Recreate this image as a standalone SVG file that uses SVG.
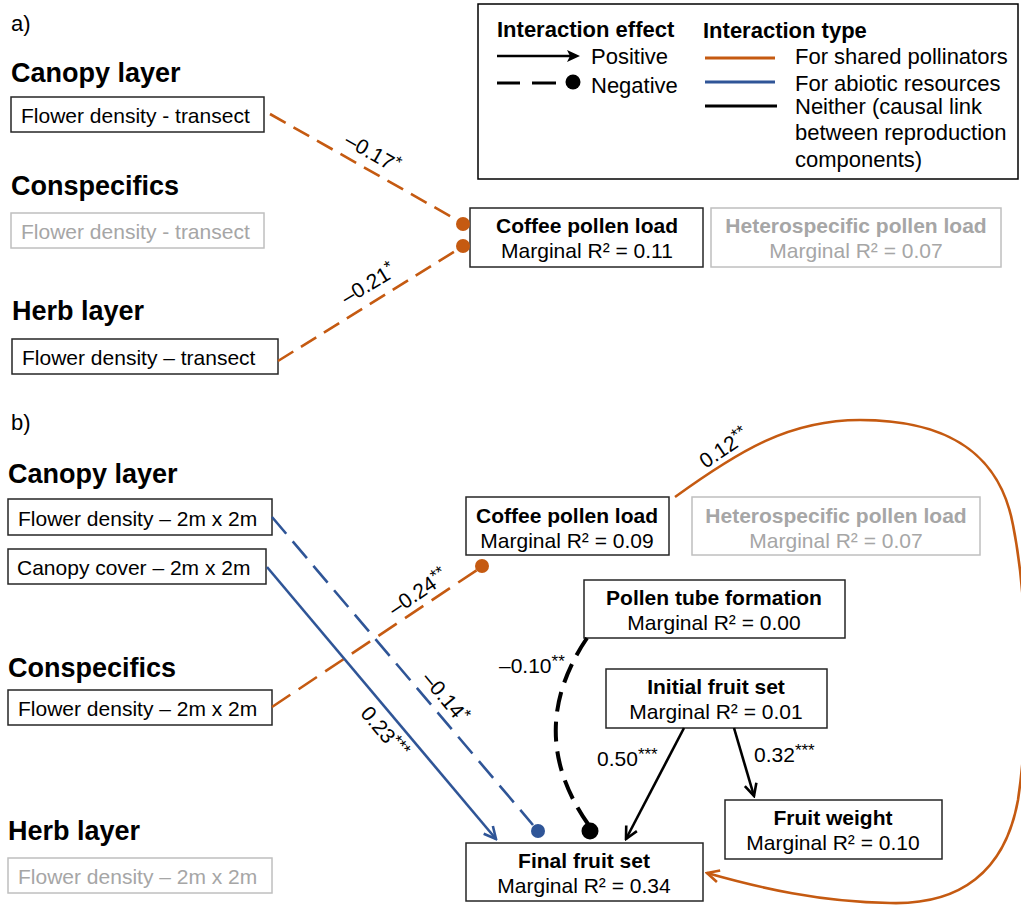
<svg xmlns="http://www.w3.org/2000/svg" width="1021" height="907" viewBox="0 0 1021 907">
<style>
text{font-family:"Liberation Sans",Arial,sans-serif;fill:#000}
.hdr{font-size:27px;font-weight:bold}
.pl{font-size:22px}
.nt{font-size:21px}
.nb{font-size:21px;font-weight:bold;text-anchor:middle}
.nm{font-size:21px;text-anchor:middle}
.el{font-size:21px}
.g{fill:#A6A6A6}
.box{fill:#fff;stroke:#262626;stroke-width:1.5}
.gbox{fill:#fff;stroke:#BFBFBF;stroke-width:1.5}
.lg{font-size:22px}
.lgb{font-size:22px;font-weight:bold}
.or{stroke:#C55A11;stroke-width:2.6;fill:none}
.bl{stroke:#2F5597;stroke-width:2.6;fill:none}
.bk{stroke:#000;stroke-width:2.6;fill:none}
.d1{stroke-dasharray:18 9}
.d2{stroke-dasharray:22 10}
</style>
<defs>
<marker id="ahB" viewBox="0 0 16 16" refX="14" refY="8" markerWidth="16" markerHeight="16" markerUnits="userSpaceOnUse" orient="auto"><path d="M2,2 L14,8 L2,14" fill="none" stroke="#2F5597" stroke-width="2.6"/></marker>
<marker id="ahK" viewBox="0 0 16 16" refX="14" refY="8" markerWidth="16" markerHeight="16" markerUnits="userSpaceOnUse" orient="auto"><path d="M2,2 L14,8 L2,14" fill="none" stroke="#000" stroke-width="2.6"/></marker>
<marker id="ahO" viewBox="0 0 16 16" refX="14" refY="8" markerWidth="16" markerHeight="16" markerUnits="userSpaceOnUse" orient="auto"><path d="M2,2 L14,8 L2,14" fill="none" stroke="#C55A11" stroke-width="2.6"/></marker>
</defs>

<!-- Part a -->
<g id="labels-a">
<text x="11" y="31" class="pl">a)</text>
<text x="11" y="82" class="hdr">Canopy layer</text>
<text x="11" y="195" class="hdr">Conspecifics</text>
<text x="12" y="320" class="hdr">Herb layer</text>
</g>
<g id="a-canopy-flower">
<rect x="11" y="97" width="253" height="35" class="box"/>
<text x="21" y="123" class="nt">Flower density - transect</text>
</g>
<g id="a-consp-flower">
<rect x="11" y="213" width="253" height="35" class="gbox"/>
<text x="21" y="239" class="nt g">Flower density - transect</text>
</g>
<g id="a-herb-flower">
<rect x="12" y="339" width="266" height="35" class="box"/>
<text x="22" y="365" class="nt">Flower density – transect</text>
</g>
<g id="a-coffee">
<rect x="470" y="208" width="233" height="59" class="box"/>
<text x="587" y="233" class="nb">Coffee pollen load</text>
<text x="587" y="258" class="nm">Marginal R² = 0.11</text>
</g>
<g id="a-hetero">
<rect x="711" y="208" width="290" height="59" class="gbox"/>
<text x="856" y="233" class="nb g">Heterospecific pollen load</text>
<text x="856" y="258" class="nm g">Marginal R² = 0.07</text>
</g>

<g id="legend">
<rect x="478" y="4" width="540" height="175" fill="#fff" stroke="#000" stroke-width="1.5"/>
<text x="497" y="37" class="lgb">Interaction effect</text>
<text x="703" y="38" class="lgb">Interaction type</text>
<line x1="497" y1="56" x2="572" y2="56" stroke="#000" stroke-width="2.6"/>
<path d="M567,50 L580,56 L567,62 L570,56 Z" fill="#000"/>
<text x="591" y="64" class="lg">Positive</text>
<line x1="497" y1="83" x2="520" y2="83" stroke="#000" stroke-width="3"/>
<line x1="532" y1="83" x2="556" y2="83" stroke="#000" stroke-width="3"/>
<circle cx="573" cy="82" r="7.5" fill="#000"/>
<text x="591" y="93" class="lg">Negative</text>
<line x1="705" y1="58" x2="775" y2="58" stroke="#C55A11" stroke-width="3"/>
<line x1="705" y1="82" x2="775" y2="82" stroke="#2F5597" stroke-width="3"/>
<line x1="705" y1="106" x2="777" y2="106" stroke="#000" stroke-width="3"/>
<text x="795" y="64" class="lg">For shared pollinators</text>
<text x="795" y="91" class="lg">For abiotic resources</text>
<text x="795" y="114" class="lg">Neither (causal link</text>
<text x="795" y="140" class="lg">between reproduction</text>
<text x="795" y="167" class="lg">components)</text>
</g>

<!-- Part b -->
<g id="labels-b">
<text x="11" y="430" class="pl">b)</text>
<text x="8" y="483" class="hdr">Canopy layer</text>
<text x="8" y="677" class="hdr">Conspecifics</text>
<text x="8" y="840" class="hdr">Herb layer</text>
</g>
<g id="b-canopy-flower">
<rect x="8" y="499" width="264" height="36" class="box"/>
<text x="18" y="526" class="nt">Flower density – 2m x 2m</text>
</g>
<g id="b-canopy-cover">
<rect x="8" y="549" width="258" height="35" class="box"/>
<text x="17" y="575" class="nt">Canopy cover – 2m x 2m</text>
</g>
<g id="b-consp-flower">
<rect x="8" y="690" width="264" height="35" class="box"/>
<text x="18" y="716" class="nt">Flower density – 2m x 2m</text>
</g>
<g id="b-herb-flower">
<rect x="8" y="858" width="264" height="35" class="gbox"/>
<text x="18" y="884" class="nt g">Flower density – 2m x 2m</text>
</g>
<g id="b-coffee">
<rect x="466" y="497" width="203" height="58" class="box"/>
<text x="567" y="523" class="nb">Coffee pollen load</text>
<text x="567" y="548" class="nm">Marginal R² = 0.09</text>
</g>
<g id="b-hetero">
<rect x="692" y="497" width="288" height="58" class="gbox"/>
<text x="836" y="523" class="nb g">Heterospecific pollen load</text>
<text x="836" y="548" class="nm g">Marginal R² = 0.07</text>
</g>
<g id="b-pollentube">
<rect x="584" y="580" width="261" height="58" class="box"/>
<text x="714" y="605" class="nb">Pollen tube formation</text>
<text x="714" y="630" class="nm">Marginal R² = 0.00</text>
</g>
<g id="b-initial">
<rect x="606" y="669" width="221" height="59" class="box"/>
<text x="716" y="694" class="nb">Initial fruit set</text>
<text x="716" y="719" class="nm">Marginal R² = 0.01</text>
</g>
<g id="b-weight">
<rect x="725" y="800" width="217" height="59" class="box"/>
<text x="833" y="825" class="nb">Fruit weight</text>
<text x="833" y="850" class="nm">Marginal R² = 0.10</text>
</g>
<g id="b-final">
<rect x="466" y="843" width="237" height="58" class="box"/>
<text x="584" y="868" class="nb">Final fruit set</text>
<text x="584" y="893" class="nm">Marginal R² = 0.34</text>
</g>

<g id="connectors">
<!-- a -->
<line x1="270" y1="114" x2="457" y2="220" class="or d1"/>
<circle cx="463" cy="224" r="7" fill="#C55A11"/>
<line x1="278" y1="361" x2="457" y2="250" class="or d1"/>
<circle cx="463" cy="246" r="7" fill="#C55A11"/>
<text class="el" text-anchor="middle" transform="translate(369,159) rotate(30)">–0.17<tspan font-size="17" dy="-6">*</tspan></text>
<text class="el" text-anchor="middle" transform="translate(372,290) rotate(-31)">–0.21<tspan font-size="17" dy="-6">*</tspan></text>
<!-- b -->
<line x1="272" y1="707" x2="477" y2="570" class="or d2"/>
<circle cx="482" cy="566" r="7" fill="#C55A11"/>
<line x1="272" y1="517" x2="533" y2="825" class="bl d2"/>
<circle cx="538" cy="831" r="7" fill="#2F5597"/>
<line x1="267" y1="567" x2="496" y2="839" class="bl" marker-end="url(#ahB)"/>
<path d="M587,638 Q524,732 588,824" stroke="#000" stroke-width="4" fill="none" stroke-dasharray="20 10"/>
<circle cx="590" cy="831" r="8.5" fill="#000"/>
<line x1="684" y1="728" x2="626" y2="839" class="bk" marker-end="url(#ahK)"/>
<line x1="734" y1="728" x2="754" y2="796" class="bk" marker-end="url(#ahK)"/>
<path d="M675,497 C740,450 790,420 860,420 C950,420 1000,455 1013,525 C1028,600 1030,720 1018,800 C1005,872 960,905 890,903 C820,902 760,888 707,873" class="or" marker-end="url(#ahO)"/>
<text class="el" text-anchor="middle" transform="translate(422,598) rotate(-34)">–0.24<tspan font-size="17" dy="-6">**</tspan></text>
<text class="el" text-anchor="middle" transform="translate(440,702) rotate(50)">–0.14<tspan font-size="17" dy="-6">*</tspan></text>
<text class="el" text-anchor="middle" transform="translate(379,737) rotate(50)">0.23<tspan font-size="17" dy="-6">***</tspan></text>
<text class="el" text-anchor="middle" transform="translate(728,454) rotate(-34)">0.12<tspan font-size="17" dy="-6">**</tspan></text>
<text class="el" x="499" y="673">–0.10<tspan font-size="17" dy="-6">**</tspan></text>
<text class="el" x="597" y="766">0.50<tspan font-size="17" dy="-6">***</tspan></text>
<text class="el" x="754" y="762">0.32<tspan font-size="17" dy="-6">***</tspan></text>
</g>
</svg>
